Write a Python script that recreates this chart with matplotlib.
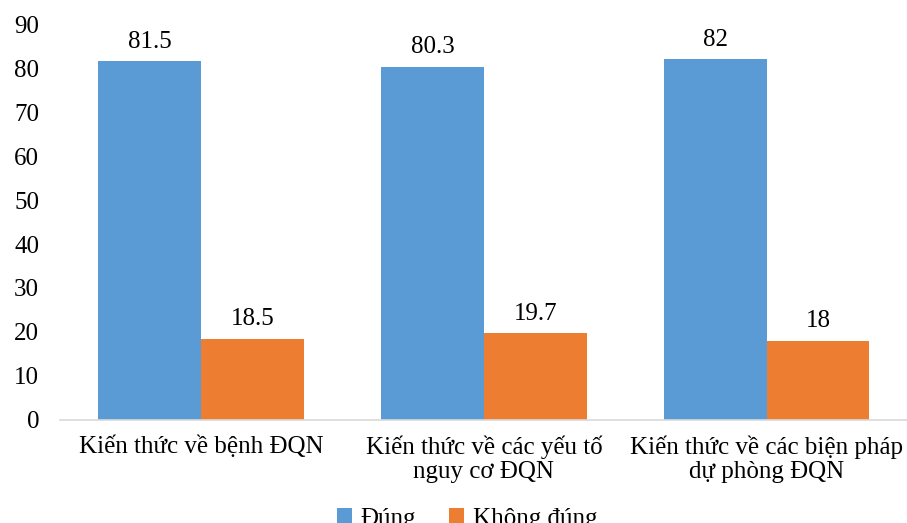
import numpy as np
import matplotlib.pyplot as plt

plt.rcParams['font.family'] = ['Liberation Serif', 'DejaVu Serif']

categories = ["Kiến thức về bệnh ĐQN",
              "Kiến thức về các yếu tố\nnguy cơ ĐQN",
              "Kiến thức về các biện pháp\ndự phòng ĐQN"]
dung = [81.5, 80.3, 82]
khong_dung = [18.5, 19.7, 18]

fig = plt.figure(figsize=(9.07, 5.23), dpi=100)
ax = fig.add_axes([0.066, 0.197, 0.935, 0.757])

x = np.arange(len(categories))
w = 0.364
b1 = ax.bar(x - w/2, dung, w, color='#5B9BD5', label='Đúng')
b2 = ax.bar(x + w/2, khong_dung, w, color='#ED7D31', label='Không đúng')
ax.bar_label(b1, labels=['81.5', '80.3', '82'], padding=6, fontsize=18)
ax.bar_label(b2, labels=['18.5', '19.7', '18'], padding=6, fontsize=18)

ax.set_xlim(-0.5, 2.5)
ax.set_ylim(0, 90)
ax.set_yticks(range(0, 91, 10))
ax.set_xticks(x)
ax.set_xticklabels(categories, fontsize=18, linespacing=1.15)
ax.tick_params(axis='y', labelsize=18, length=0, pad=15)
ax.tick_params(axis='x', length=0, pad=11)
for s in ['top', 'right', 'left']:
    ax.spines[s].set_visible(False)
ax.spines['bottom'].set_color('#D9D9D9')
ax.spines['bottom'].set_linewidth(1.2)

# legend sits at the very bottom, partly cut off as in the original
fig.legend(loc='center', bbox_to_anchor=(0.515, 0.008), ncol=2, frameon=False,
           fontsize=18, handlelength=0.6, handleheight=0.6, columnspacing=1.3,
           handletextpad=0.35)

fig.savefig('out.png', dpi=100)
